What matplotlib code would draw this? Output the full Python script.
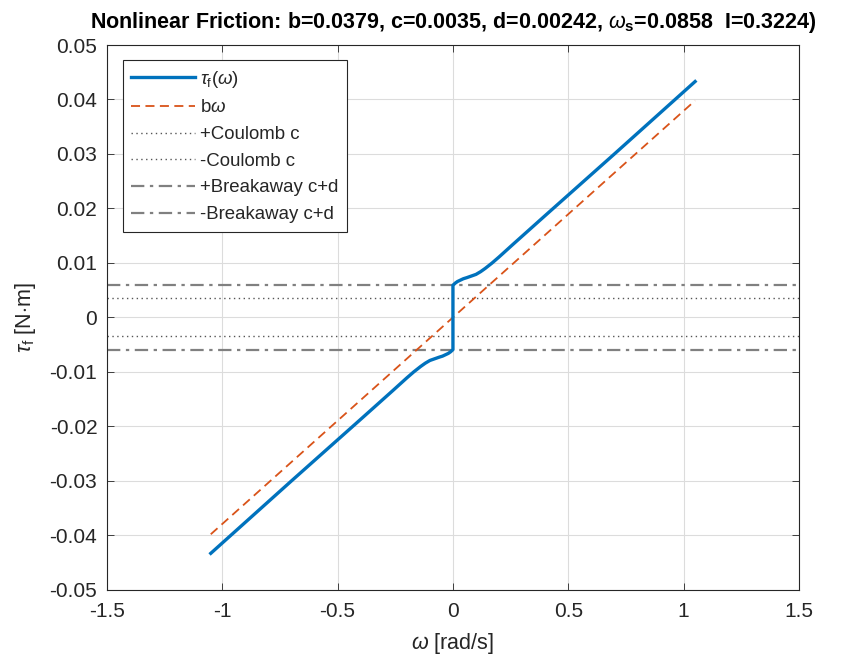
import matplotlib
matplotlib.use("Agg")
import matplotlib.pyplot as plt
import numpy as np

plt.rcParams['font.family'] = ['Liberation Sans', 'DejaVu Sans']
plt.rcParams['mathtext.fontset'] = 'custom'
plt.rcParams['mathtext.rm'] = 'Liberation Sans'
plt.rcParams['mathtext.it'] = 'Liberation Sans:italic'
plt.rcParams['mathtext.bf'] = 'Liberation Sans:bold'
plt.rcParams['axes.unicode_minus'] = False

# friction curve (rad/s, N*m)
omega = [-1.05, -0.7, -0.4, -0.26, -0.2, -0.17, -0.14, -0.12, -0.1, -0.08, -0.06, -0.045, -0.03, -0.02, -0.01, 0.0,
         0.0, 0.01, 0.02, 0.03, 0.045, 0.06, 0.08, 0.1, 0.12, 0.14, 0.17, 0.2, 0.26, 0.4, 0.7, 1.05]
tau_f = [-0.0433, -0.0300, -0.0187, -0.0134, -0.0111, -0.0100, -0.0090, -0.0084, -0.0079, -0.0076, -0.0073, -0.0071,
         -0.0068, -0.0066, -0.0063, -0.0059,
         0.0059, 0.0063, 0.0066, 0.0068, 0.0071, 0.0073, 0.0076, 0.0079, 0.0084, 0.0090, 0.0100, 0.0111, 0.0134,
         0.0187, 0.0300, 0.0433]
# viscous part b*omega
visc_w = [-1.05, 1.05]
visc_t = [-0.0398, 0.0398]
coulomb = 0.0035
breakaway = 0.00592

xticks = [-1.5, -1, -0.5, 0, 0.5, 1, 1.5]
xlabels = ['-1.5', '-1', '-0.5', '0', '0.5', '1', '1.5']
yticks = [-0.05, -0.04, -0.03, -0.02, -0.01, 0, 0.01, 0.02, 0.03, 0.04, 0.05]
ylabels = ['-0.05', '-0.04', '-0.03', '-0.02', '-0.01', '0', '0.01', '0.02', '0.03', '0.04', '0.05']

dark = '#262626'
fig = plt.figure(figsize=(8.49, 6.62), dpi=100)
ax = fig.add_axes([0.126, 0.109, 0.815, 0.823])

ax.plot(omega, tau_f, color='#0072BD', lw=2.4, label=r'$\tau_{\mathrm{f}}(\omega)$', zorder=5)
ax.plot(visc_w, visc_t, color='#D95319', lw=1.3, ls=(0, (5, 3)), label=r'b$\omega$', zorder=4)
ax.axhline(coulomb, color='#555555', lw=1.0, ls=(0, (1, 2.5)), label='+Coulomb c')
ax.axhline(-coulomb, color='#555555', lw=1.0, ls=(0, (1, 2.5)), label='-Coulomb c')
ax.axhline(breakaway, color='#808080', lw=1.6, ls=(0, (6, 2.5, 1.5, 2.5)), label='+Breakaway c+d')
ax.axhline(-breakaway, color='#808080', lw=1.6, ls=(0, (6, 2.5, 1.5, 2.5)), label='-Breakaway c+d')

ax.set_xlim(-1.5, 1.5)
ax.set_ylim(-0.05, 0.05)
ax.set_xticks(xticks)
ax.set_xticklabels(xlabels)
ax.set_yticks(yticks)
ax.set_yticklabels(ylabels)
ax.tick_params(direction='in', top=True, right=True, length=5, width=0.6,
               labelsize=15, colors=dark)
ax.tick_params(axis='x', pad=9)
ax.tick_params(axis='y', pad=7)
ax.grid(True, color='#dcdcdc', lw=0.8)
ax.set_axisbelow(True)
for s in ax.spines.values():
    s.set_color(dark)
    s.set_linewidth(0.8)

ax.set_xlabel(r'$\omega$ [rad/s]', fontsize=15.5, color=dark, labelpad=7)
ax.set_ylabel(r'$\tau_{\mathrm{f}}$ [N$\cdot$m]', fontsize=15.5, color=dark, labelpad=8)
ax.set_title(r'Nonlinear Friction: b=0.0379, c=0.0035, d=0.00242, $\omega_{\mathbf{s}}$=0.0858  I=0.3224)',
             fontsize=15.5, fontweight='bold', color='black', pad=12)

leg = ax.legend(loc='upper left', bbox_to_anchor=(0.023, 0.972), borderaxespad=0, fontsize=13.4,
                handlelength=3.4, handletextpad=0.3, labelspacing=0.52,
                borderpad=0.45, fancybox=False, framealpha=1, edgecolor=dark)
leg.get_frame().set_linewidth(0.8)
for t in leg.get_texts():
    t.set_color(dark)

fig.savefig('out.png', dpi=100)
